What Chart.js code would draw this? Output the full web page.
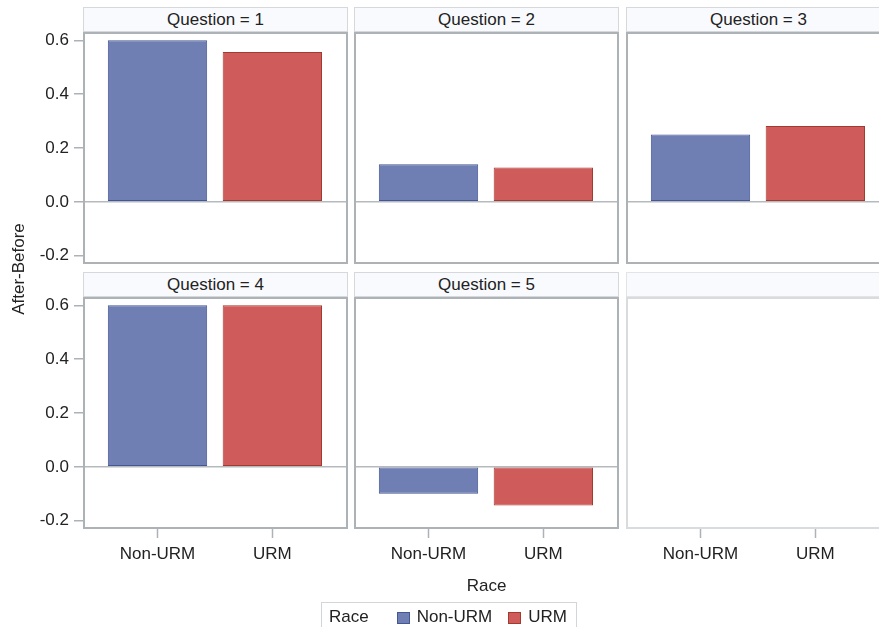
<!DOCTYPE html>
<html>
<head>
<meta charset="utf-8">
<script src="https://cdn.jsdelivr.net/npm/chart.js@4.4.1/dist/chart.umd.min.js"></script>
<style>
  html, body { margin: 0; padding: 0; background: #fff; width: 879px; height: 627px; overflow: hidden; }
  body { position: relative; font-family: "Liberation Sans", Arial, sans-serif; color: #222; }
  .hdr { position: absolute; box-sizing: border-box; border: 1px solid #d6d9dc; background: #f9fafe;
         font-size: 17px; display: flex; align-items: center; justify-content: center; white-space: nowrap; }
  .hdr.empty { border-color: #e2e4e6; }
  canvas { position: absolute; }
  .ytitle { position: absolute; width: 200px; height: 20px; line-height: 20px; font-size: 17px;
            text-align: center; transform: rotate(-90deg); }
  .xtitle { position: absolute; width: 200px; height: 20px; line-height: 20px; font-size: 17px; text-align: center; }
  .legend { position: absolute; box-sizing: border-box; border: 1px solid #d3d6d9; height: 40px;
            display: flex; align-items: flex-start; padding: 4px 9px 0 7px; font-size: 17px; line-height: 20px; }
  .legend .swatch { width: 11px; height: 10px; margin-top: 5px; border: 1px solid; }
</style>
</head>
<body>
<script>
// Change in score (After - Before) by race, one panel per question
const questions = ['1', '2', '3', '4', '5'];
const raceLabels = ['Non-URM', 'URM'];
const nonUrmValues = [0.6, 0.14, 0.25, 0.6, -0.1];
const urmValues = [0.556, 0.128, 0.282, 0.6, -0.143];
const yTickValues = [-0.2, 0, 0.2, 0.4, 0.6];

const seriesValues = [nonUrmValues, urmValues];
const fillColors = ['#6f7eb3', '#d05b5b'];
const edgeColors = ['#445694', '#a23a2e'];

// panel grid geometry
const colLeft = [84, 355, 627];
const rowTop = [33, 298];
const panelW = 263, plotH = 230, headerH = 25;
const axisW = 84, axisH = 42, M = 14;
const yRange = [-0.227, 0.627];
const xRange = [-0.64, 1.65];
const lineGray = '#adb2b6';
const FONT = { family: '"Liberation Sans", Arial, sans-serif', size: 17 };

const framePlugin = {
  id: 'panelFrame',
  afterDraw(chart, args, opts) {
    const { ctx, chartArea: a } = chart;
    ctx.save();
    ctx.strokeStyle = opts.color;
    ctx.lineWidth = 2;
    ctx.strokeRect(a.left, a.top, a.right - a.left, a.bottom - a.top);
    ctx.restore();
  }
};

function makePanel(qIndex, col, row) {
  const hasData = qIndex !== null;
  const leftCol = col === 0;
  const bottomRow = row === 1;

  // header strip
  const hdr = document.createElement('div');
  hdr.className = 'hdr' + (hasData ? '' : ' empty');
  hdr.style.left = (colLeft[col] - 1) + 'px';
  hdr.style.top = (rowTop[row] - 26) + 'px';
  hdr.style.width = (panelW + 2) + 'px';
  hdr.style.height = headerH + 'px';
  hdr.textContent = hasData ? 'Question = ' + questions[qIndex] : '';
  document.body.appendChild(hdr);

  const yW = leftCol ? axisW : 0;
  const xH = bottomRow ? axisH : 0;
  const cv = document.createElement('canvas');
  const w = panelW + yW + 2 * M, h = plotH + xH + 2 * M;
  cv.style.left = (colLeft[col] - yW - M) + 'px';
  cv.style.top = (rowTop[row] - M) + 'px';
  cv.style.width = w + 'px';
  cv.style.height = h + 'px';
  cv.width = w; cv.height = h;
  document.body.appendChild(cv);

  const datasets = hasData ? raceLabels.map((name, i) => ({
    label: name,
    data: [{ x: i, y: seriesValues[i][qIndex] }],
    backgroundColor: fillColors[i],
    borderColor: edgeColors[i],
    borderWidth: 1,
    borderSkipped: false,
    grouped: false,
    categoryPercentage: 1,
    barPercentage: 0.865
  })) : [];

  new Chart(cv, {
    type: 'bar',
    data: { datasets },
    plugins: [framePlugin],
    options: {
      responsive: false,
      animation: false,
      devicePixelRatio: 1,
      layout: { padding: M },
      plugins: {
        legend: { display: false },
        tooltip: { enabled: false },
        panelFrame: { color: hasData ? lineGray : '#d9dcde' }
      },
      scales: {
        x: {
          type: 'linear',
          offset: false,
          min: xRange[0], max: xRange[1],
          display: bottomRow,
          afterBuildTicks: s => { s.ticks = raceLabels.map((_, i) => ({ value: i })); },
          afterFit: s => { s.height = xH; s.paddingLeft = 0; s.paddingRight = 0; },
          grid: { drawOnChartArea: false, offset: false, tickLength: 10, tickColor: lineGray, tickWidth: 1.5 },
          border: { display: false },
          ticks: { font: FONT, color: '#222', padding: 6, maxRotation: 0, autoSkip: false,
                   callback: v => raceLabels[v] }
        },
        y: {
          type: 'linear',
          min: yRange[0], max: yRange[1],
          afterBuildTicks: s => { s.ticks = yTickValues.map(v => ({ value: v })); },
          afterFit: s => { s.width = yW; s.paddingTop = 0; s.paddingBottom = 0; },
          grid: {
            drawTicks: leftCol,
            tickLength: 10,
            tickColor: lineGray,
            tickWidth: 1.5,
            lineWidth: 1.5,
            color: c => (c.tick && c.tick.value === 0 && hasData) ? '#b5babe' : 'rgba(0,0,0,0)'
          },
          border: { display: false },
          ticks: { display: leftCol, font: FONT, color: '#222', padding: 5,
                   callback: v => v.toFixed(1) }
        }
      }
    }
  });
}

// 2 x 3 lattice, filled row by row; the last cell stays empty
for (let cell = 0; cell < 6; cell++) {
  const col = cell % 3, row = Math.floor(cell / 3);
  makePanel(cell < questions.length ? cell : null, col, row);
}

// shared axis titles
const yt = document.createElement('div');
yt.className = 'ytitle';
yt.textContent = 'After-Before';
yt.style.left = (18.5 - 100) + 'px';
yt.style.top = (269 - 10) + 'px';
document.body.appendChild(yt);

const xt = document.createElement('div');
xt.className = 'xtitle';
xt.textContent = 'Race';
xt.style.left = (486.5 - 100) + 'px';
xt.style.top = (586 - 10) + 'px';
document.body.appendChild(xt);

// legend
const lg = document.createElement('div');
lg.className = 'legend';
lg.style.left = '321px';
lg.style.top = '602px';
const lgTitle = document.createElement('span');
lgTitle.textContent = 'Race';
lgTitle.style.marginRight = '28px';
lg.appendChild(lgTitle);
raceLabels.forEach((name, i) => {
  const sw = document.createElement('span');
  sw.className = 'swatch';
  sw.style.background = fillColors[i];
  sw.style.borderColor = edgeColors[i];
  sw.style.marginRight = '7px';
  lg.appendChild(sw);
  const tx = document.createElement('span');
  tx.textContent = name;
  if (i < raceLabels.length - 1) tx.style.marginRight = '16px';
  lg.appendChild(tx);
});
document.body.appendChild(lg);
</script>
</body>
</html>
